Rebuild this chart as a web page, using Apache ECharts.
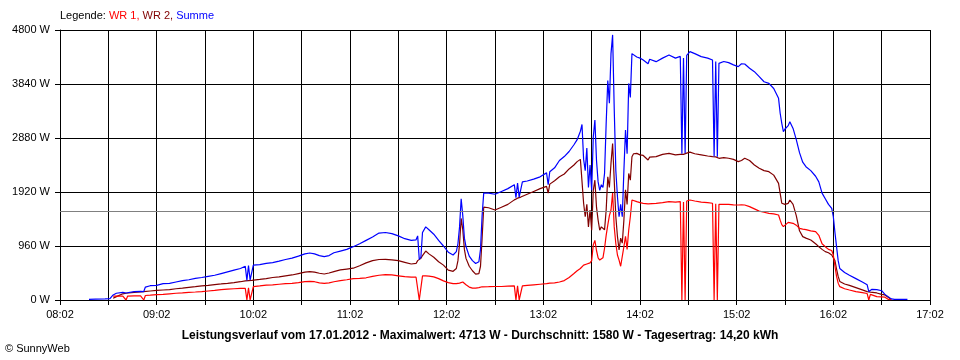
<!DOCTYPE html>
<html>
<head>
<meta charset="utf-8">
<script src="https://cdn.jsdelivr.net/npm/echarts@6/dist/echarts.min.js"></script>
<style>
html,body{margin:0;padding:0;background:#fff;}
#chart{width:960px;height:360px;}
</style>
</head>
<body>
<div id="chart"></div>
<script>
// ---- data ----
const seriesNames = ['WR 1', 'WR 2', 'Summe'];
const tickLabels = ['08:02','09:02','10:02','11:02','12:02','13:02','14:02','15:02','16:02','17:02'];
const averageW = 1580;
const titleText = 'Leistungsverlauf vom 17.01.2012 - Maximalwert: 4713 W - Durchschnitt: 1580 W - Tagesertrag: 14,20 kWh';
const footerText = '\u00A9 SunnyWeb';

const times = [
'08:20','08:24','08:30','08:33','08:35','08:37','08:41','08:43','08:44','08:48',
'08:52','08:54','08:55','08:58','09:02','09:06','09:10','09:14','09:18','09:22',
'09:26','09:30','09:34','09:38','09:42','09:46','09:50','09:54','09:57','09:58',
'09:59','10:00','10:01','10:02','10:06','10:10','10:14','10:18','10:22','10:26',
'10:30','10:34','10:37','10:40','10:43','10:46','10:49','10:52','10:56','11:00',
'11:04','11:08','11:12','11:16','11:20','11:24','11:28','11:32','11:36','11:40',
'11:43','11:44','11:45','11:46','11:47','11:49','11:51','11:54','11:57','12:00',
'12:03','12:06','12:08','12:09','12:10','12:11','12:12','12:13','12:14','12:16',
'12:18','12:20','12:22','12:23','12:24','12:25','12:28','12:32','12:36','12:40',
'12:44','12:45','12:46','12:47','12:48','12:49','12:52','12:56','13:00','13:04',
'13:05','13:06','13:09','13:12','13:15','13:18','13:21','13:23','13:25','13:26',
'13:27','13:28','13:29','13:30','13:31','13:32','13:33','13:34','13:35','13:36',
'13:37','13:38','13:39','13:40','13:41','13:42','13:43','13:44','13:45','13:46',
'13:47','13:48','13:49','13:50','13:51','13:52','13:53','13:54','13:55','13:56',
'13:57','13:58','14:00','14:02','14:04','14:07','14:08','14:12','14:16','14:20',
'14:24','14:27','14:28','14:29','14:30','14:31','14:33','14:36','14:40','14:44',
'14:47','14:48','14:49','14:50','14:51','14:54','14:57','15:00','15:03','15:05',
'15:07','15:10','15:13','15:16','15:19','15:22','15:25','15:28','15:29','15:30',
'15:31','15:32','15:34','15:35','15:37','15:39','15:41','15:43','15:45','15:48',
'15:51','15:53','15:55','15:57','15:59','16:01','16:02','16:03','16:04','16:05',
'16:06','16:09','16:12','16:16','16:20','16:23','16:24','16:25','16:26','16:29',
'16:32','16:34','16:36','16:38','16:40','16:48'
];

const wr1 = [
null,null,null,null,70,70,70,0,70,75,
75,0,80,85,95,100,110,120,125,135,
142,150,160,170,185,195,200,205,208,0,
215,0,0,237,250,265,270,280,290,296,
310,325,330,325,305,296,305,325,345,360,
380,385,395,420,440,450,445,430,415,405,
405,410,0,0,430,430,425,410,380,340,
310,290,290,290,300,320,320,300,270,230,
210,210,220,230,235,237,237,240,240,245,
250,0,250,0,0,250,260,270,280,290,
295,300,305,320,345,400,470,520,560,580,
620,630,640,650,660,700,980,1060,880,750,
710,720,750,920,1150,1330,1500,1600,1900,1300,
1000,800,710,600,600,950,1130,900,1244,1480,
1778,1760,1748,1730,1719,1710,1720,1719,1730,1748,
1740,1750,0,1740,0,1760,1778,1760,1740,1730,
1720,0,1710,0,1700,1700,1700,1690,1689,1690,
1689,1660,1620,1580,1560,1541,1530,1511,1420,1340,
1304,1320,1380,1393,1363,1330,1274,1260,1250,1230,
1215,1150,1000,948,900,880,800,600,420,300,
237,200,178,150,130,115,0,100,75,60,
55,50,12,5,null,null
];

const wr2 = [
null,null,null,null,30,60,110,120,125,135,
145,148,150,160,170,178,185,200,210,225,
237,250,261,275,285,296,310,325,340,345,
345,350,350,355,365,380,400,410,430,445,
470,495,505,495,475,462,480,505,535,550,
565,610,660,700,720,723,715,700,670,640,
650,700,720,740,790,870,820,760,680,620,
530,510,560,700,1000,1450,1250,900,740,600,
520,460,470,600,1100,1650,1640,1600,1650,1700,
1780,1800,1810,1820,1830,1840,1880,1930,1980,2020,
1900,2060,2120,2190,2240,2330,2400,2460,2500,2520,
1720,1480,1700,1300,1600,1240,1950,2130,1650,1420,
1240,1300,1280,1250,1600,2190,2000,2430,2780,2130,
1480,1130,890,1100,1010,1420,1960,1700,2250,2130,
2548,2600,2607,2580,2570,2490,2540,2550,2590,2607,
2580,2590,2600,2590,2600,2610,2630,2600,2580,2560,
2548,2550,2545,2540,2519,2530,2520,2500,2460,2480,
2519,2480,2400,2341,2300,2281,2220,2074,1896,1720,
1690,1700,1719,1778,1700,1500,1230,1126,1100,1067,
1000,948,900,860,840,800,770,700,550,420,
330,285,260,220,180,150,145,140,135,125,
100,90,50,10,null,null
];

const summe = [
10,15,20,25,90,120,135,125,145,150,
155,150,230,254,260,290,296,320,343,360,
385,400,420,440,470,500,530,560,600,350,
610,355,360,620,630,650,665,690,720,745,
780,820,835,820,790,770,790,840,870,900,
948,1000,1060,1120,1190,1200,1180,1140,1090,1060,
1070,1140,720,760,1200,1300,1250,1170,1060,960,
850,800,860,1000,1300,1800,1500,1100,950,780,
700,650,680,900,1500,1900,1900,1880,1930,1980,
2050,1820,2080,1830,1840,2100,2115,2150,2190,2260,
2050,2280,2350,2480,2550,2640,2760,2850,3000,3120,
2500,2300,2700,2000,2400,1950,2900,3200,2480,2100,
1950,2050,2000,2250,3140,3900,3500,4380,4713,3400,
2300,1840,1480,1700,1480,2300,3020,2600,3850,3600,
4380,4415,4320,4300,4267,4200,4280,4237,4300,4356,
4300,4330,2600,4300,2610,4350,4415,4380,4326,4300,
4267,2550,4240,2545,4207,4240,4220,4180,4148,4200,
4196,4120,4059,3970,3880,3852,3760,3585,3320,3141,
2993,3040,3100,3170,3050,2850,2620,2450,2370,2300,
2200,2100,1900,1800,1700,1630,1480,1200,950,700,
560,490,440,380,320,270,150,150,190,185,
165,100,60,20,12,12
];

// ---- helpers ----
const START_MIN = 8 * 60 + 2;
function offset(t) { const p = t.split(':').map(Number); return p[0] * 60 + p[1] - START_MIN; }
function pairs(vals) { return times.map((t, i) => [offset(t), vals[i] == null ? '-' : vals[i]]); }

const FONT = 'Liberation Sans, Arial, sans-serif';
const colors = ['#ff0000', '#800000', '#0000ff'];

const chart = echarts.init(document.getElementById('chart'), null, { renderer: 'canvas' });
chart.setOption({
  animation: false,
  backgroundColor: '#ffffff',
  textStyle: { fontFamily: FONT },
  title: [
    {
      left: 60, top: 10, padding: 0,
      text: '{k|Legende: }{a|' + seriesNames[0] + ', }{b|' + seriesNames[1] + ', }{c|' + seriesNames[2] + '}',
      textStyle: {
        fontSize: 11, fontWeight: 'normal',
        rich: {
          k: { color: '#000000', fontSize: 11, fontFamily: FONT },
          a: { color: colors[0], fontSize: 11, fontFamily: FONT },
          b: { color: colors[1], fontSize: 11, fontFamily: FONT },
          c: { color: colors[2], fontSize: 11, fontFamily: FONT }
        }
      }
    },
    {
      left: 'center', top: 330, padding: 0,
      text: titleText,
      textStyle: { fontSize: 12, fontWeight: 'bold', color: '#000000', fontFamily: FONT }
    },
    {
      left: 5, top: 343, padding: 0,
      text: footerText,
      textStyle: { fontSize: 11, fontWeight: 'normal', color: '#000000', fontFamily: FONT }
    }
  ],
  grid: { left: 60, right: 30, top: 30, bottom: 60, containLabel: false },
  xAxis: {
    type: 'value', min: 0, max: 540, interval: 30,
    axisLine: { show: true, lineStyle: { color: '#000', width: 1 } },
    axisTick: { show: true, length: 5, lineStyle: { color: '#000' } },
    splitLine: { show: true, lineStyle: { color: '#000', width: 1 } },
    axisLabel: {
      color: '#000', fontSize: 11, fontFamily: FONT, margin: 9,
      formatter: v => (v % 60 === 0 ? tickLabels[v / 60] : '')
    }
  },
  yAxis: {
    type: 'value', min: 0, max: 4800, interval: 960,
    axisLine: { show: true, lineStyle: { color: '#000', width: 1 } },
    axisTick: { show: true, length: 5, lineStyle: { color: '#000' } },
    splitLine: { show: true, lineStyle: { color: '#000', width: 1 } },
    axisLabel: { color: '#000', fontSize: 11, fontFamily: FONT, margin: 10, formatter: v => v + ' W' }
  },
  series: [
    {
      name: seriesNames[1], type: 'line', data: pairs(wr2), showSymbol: false, symbol: 'none',
      lineStyle: { color: colors[1], width: 1.2 }, itemStyle: { color: colors[1] }, connectNulls: false
    },
    {
      name: seriesNames[0], type: 'line', data: pairs(wr1), showSymbol: false, symbol: 'none',
      lineStyle: { color: colors[0], width: 1.2 }, itemStyle: { color: colors[0] }, connectNulls: false
    },
    {
      name: seriesNames[2], type: 'line', data: pairs(summe), showSymbol: false, symbol: 'none',
      lineStyle: { color: colors[2], width: 1.2 }, itemStyle: { color: colors[2] }, connectNulls: false,
      markLine: {
        silent: true, symbol: 'none', label: { show: false },
        lineStyle: { color: '#808080', type: 'solid', width: 1 },
        data: [{ yAxis: averageW }]
      }
    }
  ]
});
</script>
</body>
</html>
